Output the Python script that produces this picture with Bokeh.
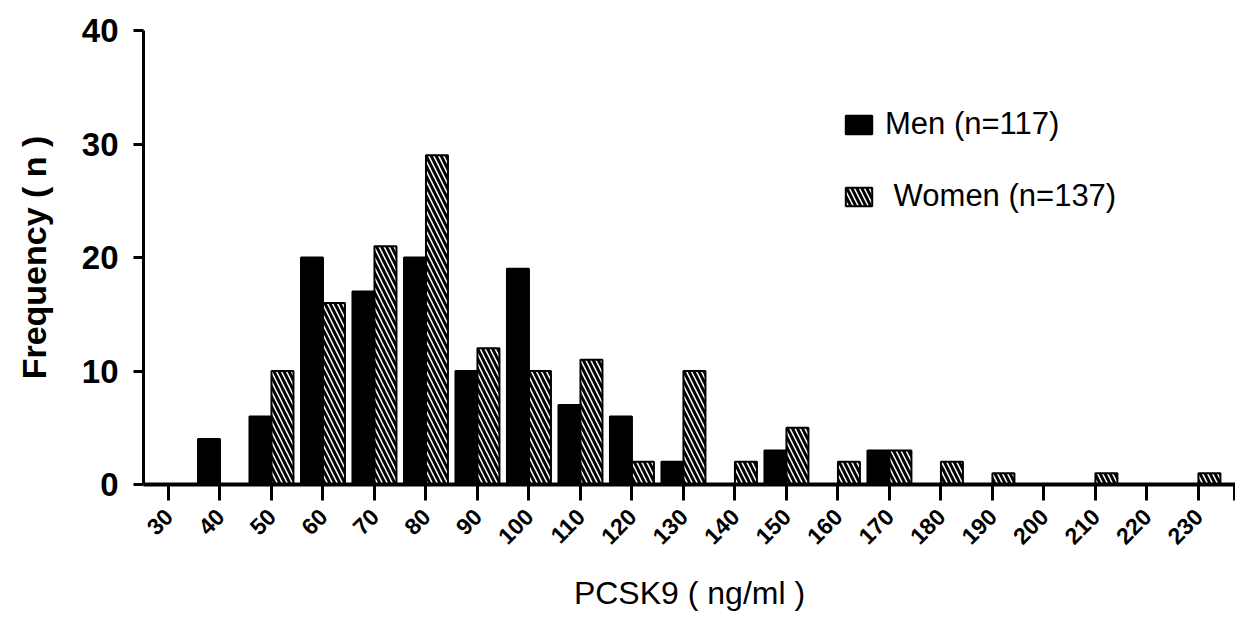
import math
from bokeh.plotting import figure
from bokeh.models import FixedTicker, Legend, LegendItem, ColumnDataSource
from bokeh.transform import dodge
from bokeh.embed import file_html
from bokeh.resources import INLINE

# PCSK9 bins (ng/ml)
bins = [30, 40, 50, 60, 70, 80, 90, 100, 110, 120, 130,
        140, 150, 160, 170, 180, 190, 200, 210, 220, 230]
men = [0, 4, 6, 20, 17, 20, 10, 19, 7, 6, 2,
       0, 3, 0, 3, 0, 0, 0, 0, 0, 0]
women = [0, 0, 10, 16, 21, 29, 12, 10, 11, 2, 10,
         2, 5, 2, 3, 2, 1, 0, 1, 0, 1]
y_ticks = [0, 10, 20, 30, 40]
men_label = "Men (n=117)"
women_label = " Women (n=137)"

FONT = "Liberation Sans"
BAR_W = 4.27

src = ColumnDataSource(dict(x=bins, men=men, women=women))

p = figure(width=1235, height=615, x_range=(25.15, 237.2), y_range=(0, 40),
           output_backend="svg", toolbar_location=None,
           min_border_left=143, min_border_right=0,
           min_border_top=30, min_border_bottom=131)
p.xgrid.visible = False
p.ygrid.visible = False
p.outline_line_color = None

r_men = p.vbar(x=dodge("x", -BAR_W / 2, range=p.x_range), top="men", width=BAR_W,
               source=src, fill_color="black", line_color="black", line_width=2)
r_women = p.vbar(x=dodge("x", BAR_W / 2, range=p.x_range), top="women", width=BAR_W,
                 source=src, fill_color="white", line_color="black", line_width=2,
                 hatch_pattern="\\", hatch_color="black", hatch_weight=3, hatch_scale=10)

xa = p.xaxis[0]
end_tick = 237
xa.ticker = FixedTicker(ticks=bins + [end_tick])
xa.major_label_overrides = {end_tick: ""}
xa.major_label_orientation = math.pi / 4
xa.axis_line_width = 4
xa.axis_line_color = "black"
xa.major_tick_line_color = "black"
xa.major_tick_line_width = 3
xa.major_tick_out = 16
xa.major_tick_in = 0
xa.minor_tick_line_color = None
xa.major_label_text_font = FONT
xa.major_label_text_font_size = "23px"
xa.major_label_text_font_style = "bold"
xa.major_label_text_color = "black"
xa.major_label_standoff = 12
xa.axis_label = "PCSK9 ( ng/ml )"
xa.axis_label_text_font = FONT
xa.axis_label_text_font_size = "32px"
xa.axis_label_text_font_style = "normal"
xa.axis_label_text_color = "black"
xa.axis_label_standoff = 20

ya = p.yaxis[0]
ya.ticker = FixedTicker(ticks=y_ticks)
ya.axis_line_width = 3
ya.axis_line_color = "black"
ya.major_tick_line_color = "black"
ya.major_tick_line_width = 3
ya.major_tick_out = 10
ya.major_tick_in = 0
ya.minor_tick_line_color = None
ya.major_label_text_font = FONT
ya.major_label_text_font_size = "33px"
ya.major_label_text_font_style = "bold"
ya.major_label_text_color = "black"
ya.major_label_standoff = 15
ya.axis_label = "Frequency ( n )"
ya.axis_label_text_font = FONT
ya.axis_label_text_font_size = "34px"
ya.axis_label_text_font_style = "bold"
ya.axis_label_text_color = "black"
ya.axis_label_standoff = 26

legend = Legend(items=[LegendItem(label=men_label, renderers=[r_men]),
                       LegendItem(label=women_label, renderers=[r_women])],
                location=(699, 270), glyph_width=33, glyph_height=23,
                label_text_font=FONT, label_text_font_size="31px",
                label_text_color="black",
                label_standoff=10, spacing=36, padding=0, margin=0,
                border_line_color=None, background_fill_alpha=0)
p.add_layout(legend)

open("out.html", "w").write(file_html(p, INLINE))
